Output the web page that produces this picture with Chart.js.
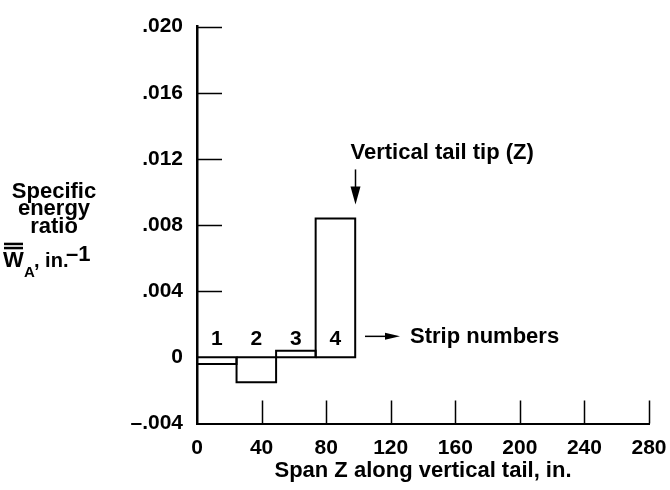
<!DOCTYPE html>
<html>
<head>
<meta charset="utf-8">
<script src="https://cdn.jsdelivr.net/npm/chart.js@4.4.1/dist/chart.umd.min.js"></script>
<style>
  html, body { margin: 0; padding: 0; background: #fff; }
  #chart { display: block; }
</style>
</head>
<body>
<canvas id="chart" width="670" height="490"></canvas>
<script>
// strip edges along the span (in.) and the specific energy ratio of each strip
const stripEdges = [0, 24.5, 49, 73.5, 98];
const stripValues = [-0.0004, -0.0015, 0.0004, 0.0084];
const stripNames = ['1', '2', '3', '4'];

const xTicks = [0, 40, 80, 120, 160, 200, 240, 280];
const yTicks = [-0.004, 0, 0.004, 0.008, 0.012, 0.016, 0.020];

const FONT = '"Liberation Sans", Arial, Helvetica, sans-serif';

// one closed outline per strip: zero -> value -> value -> zero -> back
const stripSets = stripValues.map((v, i) => ({
  data: [
    {x: stripEdges[i], y: 0},
    {x: stripEdges[i], y: v},
    {x: stripEdges[i + 1], y: v},
    {x: stripEdges[i + 1], y: 0},
    {x: stripEdges[i], y: 0}
  ],
  showLine: true,
  borderColor: '#000',
  borderWidth: 2,
  pointRadius: 0,
  tension: 0,
  fill: false
}));

function fmtY(v) {
  const m = Math.round(v * 1000);
  if (m === 0) return '0';
  return (m < 0 ? '\u2013' : '') + '.' + String(Math.abs(m)).padStart(3, '0');
}

// tick marks sit inside the frame, like the original drawing
const innerTicks = {
  id: 'innerTicks',
  afterDatasetsDraw(chart) {
    const {ctx, scales: {x, y}} = chart;
    ctx.save();
    ctx.strokeStyle = '#000';
    ctx.lineWidth = 1.5;
    ctx.beginPath();
    y.ticks.forEach(t => {
      if (t.value <= 0) return;
      const py = Math.round(y.getPixelForValue(t.value)) + 0.5;
      ctx.moveTo(x.left, py);
      ctx.lineTo(x.left + 25, py);
    });
    x.ticks.forEach(t => {
      if (t.value <= 0) return;
      const px = Math.round(x.getPixelForValue(t.value)) + 0.5;
      ctx.moveTo(px, y.bottom);
      ctx.lineTo(px, y.bottom - 23);
    });
    ctx.stroke();
    ctx.restore();
  }
};

// strip numbers, arrows, notes and the y axis label
const notes = {
  id: 'notes',
  afterDraw(chart) {
    const {ctx, scales: {x, y}} = chart;
    const zero = y.getPixelForValue(0);
    const tipX = Math.round(x.getPixelForValue(stripEdges[stripEdges.length - 1]));
    const tipY = y.getPixelForValue(stripValues[stripValues.length - 1]) - 14;

    ctx.save();
    ctx.fillStyle = '#000';
    ctx.strokeStyle = '#000';
    ctx.font = 'bold 21px ' + FONT;
    ctx.textAlign = 'center';
    ctx.textBaseline = 'alphabetic';
    stripNames.forEach((n, i) => {
      const cx = x.getPixelForValue((stripEdges[i] + stripEdges[i + 1]) / 2);
      ctx.fillText(n, cx, zero - 12);
    });

    // down arrow to the tail tip
    ctx.lineWidth = 1.5;
    ctx.beginPath();
    ctx.moveTo(tipX + 0.5, tipY - 35);
    ctx.lineTo(tipX + 0.5, tipY - 16);
    ctx.stroke();
    ctx.beginPath();
    ctx.moveTo(tipX - 4.5, tipY - 18);
    ctx.lineTo(tipX + 5.5, tipY - 18);
    ctx.lineTo(tipX + 0.5, tipY);
    ctx.closePath();
    ctx.fill();

    ctx.font = 'bold 22px ' + FONT;
    ctx.textAlign = 'left';
    ctx.fillText('Vertical tail tip (Z)', tipX - 4.5, tipY - 45);

    // right arrow to the strip numbers note
    const ay = zero - 21;
    ctx.beginPath();
    ctx.moveTo(tipX + 10, ay);
    ctx.lineTo(tipX + 32, ay);
    ctx.stroke();
    ctx.beginPath();
    ctx.moveTo(tipX + 30, ay - 3.5);
    ctx.lineTo(tipX + 45, ay);
    ctx.lineTo(tipX + 30, ay + 3.5);
    ctx.closePath();
    ctx.fill();
    ctx.fillText('Strip numbers', tipX + 55, zero - 14);

    // y axis label
    ctx.textAlign = 'center';
    ctx.fillText('Specific', 54, 198);
    ctx.fillText('energy', 54, 215);
    ctx.fillText('ratio', 54, 233);
    ctx.textAlign = 'left';
    ctx.fillText('W', 3, 267);
    ctx.fillRect(4, 242.7, 19, 2.5);
    ctx.fillRect(4, 246.8, 19, 2.5);
    ctx.font = 'bold 15px ' + FONT;
    ctx.fillText('A', 24, 277);
    ctx.font = 'bold 20px ' + FONT;
    ctx.fillText(', in.', 34, 267);
    ctx.font = 'bold 22px ' + FONT;
    ctx.fillText('\u20131', 66, 261);
    ctx.restore();
  }
};

new Chart(document.getElementById('chart'), {
  type: 'scatter',
  data: { datasets: stripSets },
  options: {
    responsive: false,
    devicePixelRatio: 1,
    animation: false,
    layout: { padding: { top: 23, right: 21, bottom: 4, left: 0 } },
    plugins: {
      legend: { display: false },
      tooltip: { enabled: false }
    },
    scales: {
      x: {
        type: 'linear',
        min: 0,
        max: 280,
        afterBuildTicks: s => { s.ticks = xTicks.map(v => ({ value: v })); },
        afterFit: s => { s.height = 62.5; s.paddingLeft = 0; s.paddingRight = 0; },
        grid: { drawOnChartArea: false, drawTicks: false },
        border: { color: '#000', width: 2 },
        ticks: {
          color: '#000',
          padding: 12,
          maxRotation: 0,
          font: { family: FONT, size: 21, weight: 'bold' }
        },
        title: {
          display: true,
          text: 'Span Z along vertical tail, in.',
          color: '#000',
          padding: { top: 0, bottom: 2 },
          font: { family: FONT, size: 22, weight: 'bold' }
        }
      },
      y: {
        min: -0.004,
        max: 0.020,
        afterBuildTicks: s => { s.ticks = yTicks.map(v => ({ value: v })); },
        afterFit: s => { s.width = 197; },
        grid: { drawOnChartArea: false, drawTicks: false },
        border: { color: '#000', width: 2.5 },
        ticks: {
          color: '#000',
          padding: 14,
          callback: v => fmtY(v),
          font: { family: FONT, size: 21, weight: 'bold' }
        }
      }
    }
  },
  plugins: [innerTicks, notes]
});
</script>
</body>
</html>
